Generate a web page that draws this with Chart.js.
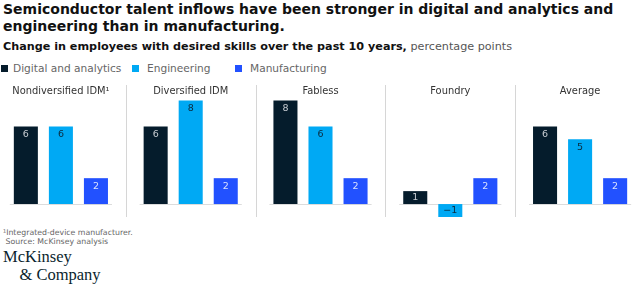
<!DOCTYPE html>
<html>
<head>
<meta charset="utf-8">
<script src="https://cdn.jsdelivr.net/npm/chart.js@4.4.1/dist/chart.umd.min.js"></script>
<style>
  body { margin: 0; background: #fff; width: 641px; height: 290px; overflow: hidden; position: relative; font-family: "DejaVu Sans", sans-serif; }
  #title { position: absolute; left: 3px; top: 1px; font-size: 14px; font-weight: bold; line-height: 17px; color: #111; white-space: nowrap; }
  #sub { position: absolute; left: 3px; top: 40px; font-size: 11.2px; color: #111; white-space: nowrap; }
  #sub span { font-weight: normal; color: #555; }
  .lg { position: absolute; top: 62px; font-size: 10.6px; color: #666; white-space: nowrap; }
  .lg i { position: absolute; top: 3px; width: 7px; height: 7px; }
  #wrap { position: absolute; left: -4px; top: 80px; width: 649px; height: 142px; }
  #foot { position: absolute; left: 3px; top: 229px; font-size: 7.8px; line-height: 8.5px; color: #666; white-space: nowrap; }
  #logo { position: absolute; left: 3px; top: 248px; font-family: "Liberation Serif", serif; font-size: 16.5px; line-height: 18px; color: #0b1f2e; }
</style>
</head>
<body>
<div id="title">Semiconductor talent inflows have been stronger in digital and analytics and<br>engineering than in manufacturing.</div>
<div id="sub"><b>Change in employees with desired skills over the past 10 years,</b> <span>percentage points</span></div>
<div class="lg" style="left:13px"><i style="left:-12px;background:#051c2c"></i>Digital and analytics</div>
<div class="lg" style="left:147px"><i style="left:-15px;background:#00a9f4"></i>Engineering</div>
<div class="lg" style="left:250px"><i style="left:-15px;background:#2251ff"></i>Manufacturing</div>
<div id="wrap"><canvas id="chart"></canvas></div>
<div id="foot">¹Integrated-device manufacturer.<br>&nbsp;Source: McKinsey analysis</div>
<div id="logo">McKinsey<br>&nbsp;&nbsp;&nbsp;&nbsp;&amp; Company</div>
<script>
const categories    = ['Nondiversified IDM¹', 'Diversified IDM', 'Fabless', 'Foundry', 'Average'];
const seriesNames   = ['Digital and analytics', 'Engineering', 'Manufacturing'];
const digital       = [6, 6, 8, 1, 6];
const engineering   = [6, 8, 6, -1, 5];
const manufacturing = [2, 2, 2, 2, 2];
const colors        = ['#051c2c', '#00a9f4', '#2251ff'];
const labelColors   = ['#c8cdd2', '#0b2a3c', '#d8e0ff'];

// dividers, panel titles, baselines and value labels
const panelPlugin = {
  id: 'panels',
  beforeDatasetsDraw(chart) {
    const ctx = chart.ctx;
    const x = chart.scales.x, y = chart.scales.y, area = chart.chartArea;
    ctx.save();
    ctx.strokeStyle = '#d6d6d6';
    ctx.lineWidth = 1;
    for (let i = 0; i < categories.length - 1; i++) {
      const xp = Math.round((x.getPixelForValue(i) + x.getPixelForValue(i + 1)) / 2) + 0.5;
      ctx.beginPath(); ctx.moveTo(xp, area.top); ctx.lineTo(xp, area.bottom); ctx.stroke();
    }
    const y0 = Math.round(y.getPixelForValue(0)) + 0.5;
    const metaA = chart.getDatasetMeta(0), metaC = chart.getDatasetMeta(2);
    ctx.strokeStyle = '#dcdcdc';
    for (let i = 0; i < categories.length; i++) {
      const a = metaA.data[i], c = metaC.data[i];
      ctx.beginPath();
      ctx.moveTo(a.x - a.width / 2 - 4, y0);
      ctx.lineTo(c.x + c.width / 2 + 4, y0);
      ctx.stroke();
    }
    ctx.fillStyle = '#333';
    ctx.font = '9.9px "DejaVu Sans", sans-serif';
    ctx.textAlign = 'center';
    ctx.textBaseline = 'middle';
    categories.forEach((c, i) => ctx.fillText(c, x.getPixelForValue(i), area.top + 6));
    ctx.restore();
  },
  afterDatasetsDraw(chart) {
    const ctx = chart.ctx;
    ctx.save();
    ctx.font = '9.5px "DejaVu Sans", sans-serif';
    ctx.textAlign = 'center';
    ctx.textBaseline = 'middle';
    chart.data.datasets.forEach((ds, d) => {
      chart.getDatasetMeta(d).data.forEach((bar, i) => {
        const v = ds.data[i];
        const top = Math.min(bar.y, bar.base), bot = Math.max(bar.y, bar.base);
        const yy = Math.min(top + 8, (top + bot) / 2);
        ctx.fillStyle = labelColors[d];
        ctx.fillText(v < 0 ? '\u2212' + Math.abs(v) : String(v), bar.x, yy);
      });
    });
    ctx.restore();
  }
};

new Chart(document.getElementById('chart'), {
  type: 'bar',
  data: {
    labels: categories,
    datasets: [digital, engineering, manufacturing].map((d, i) => ({
      label: seriesNames[i],
      data: d,
      backgroundColor: colors[i],
      categoryPercentage: 0.81,
      barPercentage: 0.686
    }))
  },
  options: {
    responsive: true,
    maintainAspectRatio: false,
    animation: false,
    layout: { padding: { top: 5, bottom: 5, left: 0, right: 0 } },
    plugins: { legend: { display: false }, tooltip: { enabled: false } },
    scales: {
      x: { display: false },
      y: { display: false, min: -1, max: 9.2 }
    }
  },
  plugins: [panelPlugin]
});
</script>
</body>
</html>
